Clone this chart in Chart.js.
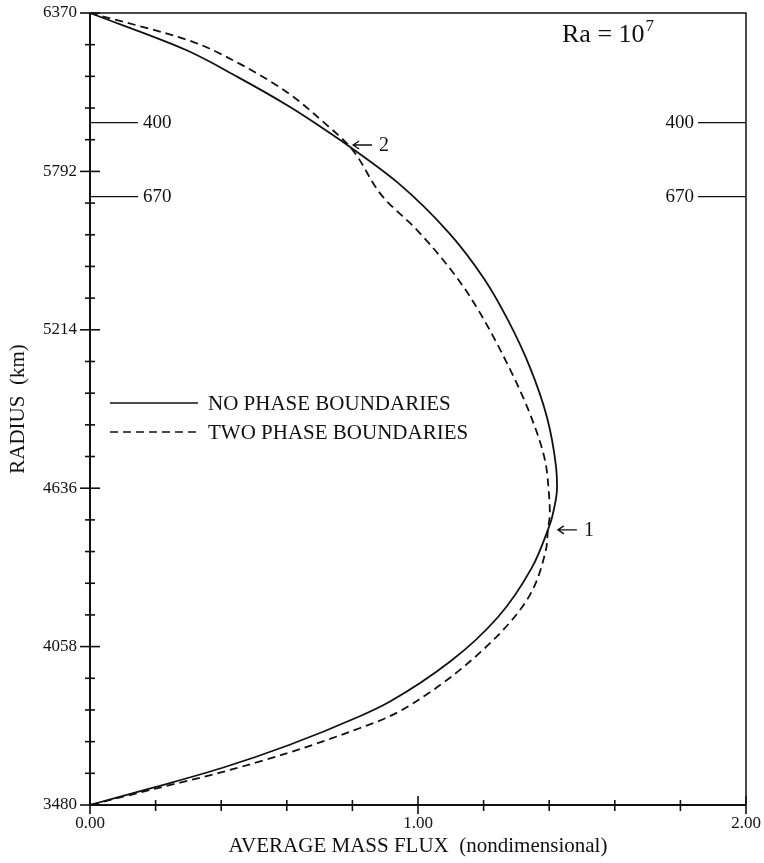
<!DOCTYPE html>
<html>
<head>
<meta charset="utf-8">
<script src="https://cdn.jsdelivr.net/npm/chart.js@4.4.1/dist/chart.umd.min.js"></script>
<style>
  html, body { margin: 0; padding: 0; background: #fff; overflow: hidden; }
  #wrap { width: 764px; height: 863px; }
</style>
</head>
<body>
<div id="wrap"><canvas id="flux_chart"></canvas></div>
<script>
// Values (flux is nondimensional, radius in km)
const noPhaseFlux   = [0, 0.293, 0.451, 0.610, 0.704, 0.793, 0.939, 1.095, 1.204, 1.274, 1.341, 1.393, 1.421, 1.424, 1.409, 1.396, 1.348, 1.244, 1.104, 0.912, 0.817, 0.607, 0.402, 0.201, 0];
const noPhaseRadius = [6370, 6235, 6136, 6027, 5954, 5881, 5750, 5567, 5396, 5250, 5078, 4896, 4713, 4640, 4531, 4484, 4348, 4166, 4009, 3856, 3801, 3699, 3615, 3546, 3480];

const twoPhaseFlux   = [0, 0.299, 0.451, 0.604, 0.704, 0.793, 0.893, 0.997, 1.101, 1.165, 1.274, 1.345, 1.387, 1.399, 1.402, 1.396, 1.390, 1.332, 1.198, 1.015, 0.909, 0.808, 0.604, 0.393, 0.207, 0];
const twoPhaseRadius = [6370, 6271, 6188, 6078, 5980, 5881, 5699, 5578, 5432, 5323, 5086, 4896, 4739, 4619, 4545, 4484, 4411, 4228, 4046, 3874, 3801, 3754, 3670, 3597, 3542, 3480];

const seriesLabels = ['NO PHASE BOUNDARIES', 'TWO PHASE BOUNDARIES'];

const xTickValues = [0, 0.2, 0.4, 0.6, 0.8, 1.0, 1.2, 1.4, 1.6, 1.8, 2.0];
const xTickLabels = ['0.00', '', '', '', '', '1.00', '', '', '', '', '2.00'];
const yMajorTicks = [3480, 4058, 4636, 5214, 5792, 6370];

// depth markers (km below surface) and the radius they sit at
const depthLabels = ['400', '670'];
const depthRadius = [5970, 5700];

// crossing points marked with arrows
const crossLabels = ['1', '2'];
const crossFlux   = [1.396, 0.793];
const crossRadius = [4484, 5881];

const SERIF = '"Liberation Serif", "DejaVu Serif", serif';
const INK = '#111';

// minor ticks: 5 steps per major interval
const yTickValues = [];
for (let i = 0; i < yMajorTicks.length - 1; i++) {
    const step = (yMajorTicks[i + 1] - yMajorTicks[i]) / 5;
    for (let k = 0; k < 5; k++) yTickValues.push(yMajorTicks[i] + k * step);
}
yTickValues.push(yMajorTicks[yMajorTicks.length - 1]);

const toPoints = (xs, ys) => xs.map((x, i) => ({ x: x, y: ys[i] }));

const noEdgePadding = scale => {
    scale.paddingLeft = 0; scale.paddingRight = 0;
    scale.paddingTop = 0; scale.paddingBottom = 0;
};

// Draws the frame, crossing tick marks, depth markers, legend and notes
const paperPlugin = {
    id: 'paper',
    afterDatasetsDraw(chart) {
        const { ctx, chartArea: a, scales: { x, y } } = chart;
        ctx.save();
        ctx.strokeStyle = INK;
        ctx.fillStyle = INK;

        // frame
        ctx.lineWidth = 1.5;
        ctx.beginPath();
        ctx.moveTo(a.left, a.top); ctx.lineTo(a.right, a.top); ctx.lineTo(a.right, a.bottom);
        ctx.stroke();
        ctx.lineWidth = 2;
        ctx.beginPath();
        ctx.moveTo(a.left, a.top); ctx.lineTo(a.left, a.bottom); ctx.lineTo(a.right, a.bottom);
        ctx.stroke();

        // y ticks cross the axis
        ctx.lineWidth = 1.6;
        yTickValues.forEach((v, i) => {
            const py = y.getPixelForValue(v);
            const len = i % 5 === 0 ? 10 : 5;
            ctx.beginPath();
            ctx.moveTo(a.left - len, py); ctx.lineTo(a.left + len, py);
            ctx.stroke();
        });
        // x ticks
        xTickValues.forEach((v, i) => {
            const px = x.getPixelForValue(v);
            const major = xTickLabels[i] !== '';
            const up = major ? 9 : 5;
            const down = major ? 9 : 6;
            ctx.beginPath();
            ctx.moveTo(px, a.bottom - up); ctx.lineTo(px, a.bottom + down);
            ctx.stroke();
        });

        // depth markers on both sides
        ctx.lineWidth = 1.2;
        ctx.font = '19px ' + SERIF;
        ctx.textBaseline = 'middle';
        depthRadius.forEach((r, i) => {
            const py = y.getPixelForValue(r);
            ctx.beginPath();
            ctx.moveTo(a.left, py); ctx.lineTo(a.left + 48, py);
            ctx.moveTo(a.right - 48, py); ctx.lineTo(a.right, py);
            ctx.stroke();
            ctx.textAlign = 'left';
            ctx.fillText(depthLabels[i], a.left + 53, py);
            ctx.textAlign = 'right';
            ctx.fillText(depthLabels[i], a.right - 52, py);
        });

        // arrows to the crossings
        ctx.textAlign = 'left';
        ctx.font = '20px ' + SERIF;
        ctx.lineWidth = 1.3;
        crossLabels.forEach((lab, i) => {
            const px = x.getPixelForValue(crossFlux[i]);
            const py = y.getPixelForValue(crossRadius[i]);
            const x0 = px + (lab === '1' ? 10 : 3);
            const y0 = py + (lab === '1' ? 0 : -2);
            ctx.beginPath();
            ctx.moveTo(x0, y0); ctx.lineTo(x0 + 19, y0);
            ctx.moveTo(x0 + 6, y0 - 4); ctx.lineTo(x0, y0); ctx.lineTo(x0 + 6, y0 + 4);
            ctx.stroke();
            ctx.fillText(lab, x0 + 26, y0 + 1);
        });

        // Ra label
        ctx.font = '26px ' + SERIF;
        ctx.textBaseline = 'alphabetic';
        const base = 'Ra = 10';
        const rx = a.left + 472;
        ctx.fillText(base, rx, a.top + 29);
        const w = ctx.measureText(base).width;
        ctx.font = '17px ' + SERIF;
        ctx.fillText('7', rx + w + 1, a.top + 18);

        // legend
        ctx.font = '21px ' + SERIF;
        ctx.textBaseline = 'middle';
        chart.data.datasets.forEach((ds, i) => {
            const ly = a.top + 390 + i * 29;
            ctx.lineWidth = 1.5;
            ctx.setLineDash(ds.borderDash || []);
            ctx.beginPath();
            ctx.moveTo(a.left + 20, ly); ctx.lineTo(a.left + 108, ly);
            ctx.stroke();
            ctx.setLineDash([]);
            ctx.fillText(ds.label, a.left + 118, ly + 1);
        });
        ctx.restore();
    }
};

new Chart(document.getElementById('flux_chart'), {
    type: 'line',
    data: {
        datasets: [
            {
                label: seriesLabels[0],
                data: toPoints(noPhaseFlux, noPhaseRadius),
                borderColor: INK,
                borderWidth: 1.8,
                pointRadius: 0,
                cubicInterpolationMode: 'monotone',
                clip: 6
            },
            {
                label: seriesLabels[1],
                data: toPoints(twoPhaseFlux, twoPhaseRadius),
                borderColor: INK,
                borderWidth: 1.8,
                borderDash: [8, 5],
                pointRadius: 0,
                cubicInterpolationMode: 'monotone',
                clip: 6
            }
        ]
    },
    options: {
        indexAxis: 'y',
        responsive: true,
        maintainAspectRatio: false,
        animation: false,
        layout: { padding: { top: 13, right: 18, left: 0, bottom: 0 } },
        scales: {
            x: {
                type: 'linear',
                position: 'bottom',
                min: 0,
                max: 2,
                afterBuildTicks: scale => { scale.ticks = xTickValues.map(v => ({ value: v })); },
                afterFit: scale => { scale.height = 58; noEdgePadding(scale); },
                grid: { display: false },
                border: { display: false },
                ticks: {
                    autoSkip: false,
                    maxRotation: 0,
                    padding: 0,
                    color: INK,
                    font: { family: SERIF, size: 17 },
                    callback: (v, i) => xTickLabels[i]
                },
                title: {
                    display: true,
                    text: 'AVERAGE MASS FLUX  (nondimensional)',
                    color: INK,
                    font: { family: SERIF, size: 21 },
                    padding: { top: 0, bottom: 4 }
                }
            },
            y: {
                type: 'linear',
                position: 'left',
                min: 3480,
                max: 6370,
                afterBuildTicks: scale => { scale.ticks = yTickValues.map(v => ({ value: v })); },
                afterFit: scale => { scale.width = 90; noEdgePadding(scale); },
                grid: { display: false },
                border: { display: false },
                ticks: {
                    autoSkip: false,
                    padding: 5,
                    color: INK,
                    font: { family: SERIF, size: 17 },
                    callback: (v, i) => (i % 5 === 0 ? String(Math.round(v)) : '')
                },
                title: {
                    display: true,
                    text: 'RADIUS  (km)',
                    color: INK,
                    font: { family: SERIF, size: 21 },
                    padding: { top: 6, bottom: 0 }
                }
            }
        },
        plugins: {
            legend: { display: false },
            tooltip: { enabled: false }
        }
    },
    plugins: [paperPlugin]
});
</script>
</body>
</html>
